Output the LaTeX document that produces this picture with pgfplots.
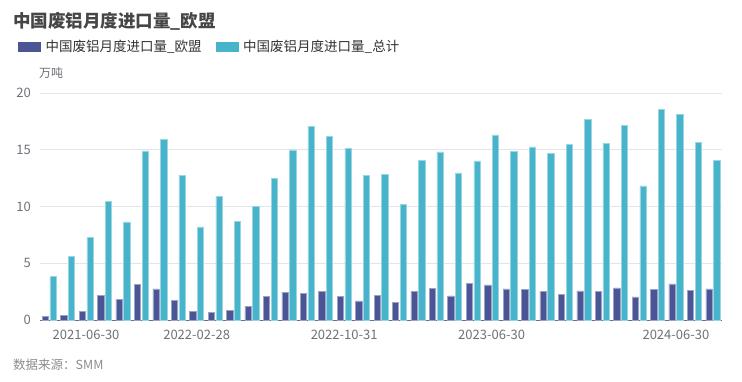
\documentclass[border=0pt]{standalone}
\usepackage{pgfplots}
\usepackage{pgfplotstable}
\pgfplotsset{compat=1.18}
\usepackage{fontspec}
\setmainfont{Noto Sans CJK SC}
\definecolor{eu}{HTML}{4B5596}
\definecolor{tot}{HTML}{48B4CB}
\definecolor{axisgray}{HTML}{6E7079}
\definecolor{gridgray}{HTML}{E3E5EA}
\definecolor{titlec}{HTML}{464646}
\definecolor{legc}{HTML}{333333}
\definecolor{srcc}{HTML}{8C8C8C}
\pgfplotstableread{
idx eu tot
0 0.35 3.82
1 0.41 5.59
2 0.76 7.26
3 2.20 10.44
4 1.82 8.65
5 3.15 14.91
6 2.74 15.91
7 1.74 12.76
8 0.76 8.21
9 0.70 10.91
10 0.85 8.71
11 1.18 10.03
12 2.09 12.50
13 2.44 15.00
14 2.35 17.09
15 2.53 16.21
16 2.09 15.12
17 1.68 12.71
18 2.20 12.82
19 1.56 10.18
20 2.53 14.09
21 2.79 14.82
22 2.12 12.97
23 3.26 14.03
24 3.09 16.32
25 2.74 14.88
26 2.71 15.26
27 2.53 14.68
28 2.29 15.47
29 2.56 17.68
30 2.50 15.53
31 2.82 17.15
32 2.03 11.82
33 2.68 18.56
34 3.18 18.12
35 2.62 15.62
36 2.74 14.09
}\datatable
\begin{document}
\begin{tikzpicture}[x=1pt,y=1pt]
\path[use as bounding box] (0,0) rectangle (742,381);
\node[anchor=west, inner sep=0pt, text=titlec, font=\fontsize{17.5}{20}\selectfont\bfseries] at (13,359.5) {中国废铝月度进口量\_欧盟};
\node[anchor=west, inner sep=0pt, text=axisgray, font=\fontsize{12}{14}\selectfont] at (39,308.5) {万吨};
\node[anchor=west, inner sep=0pt, text=srcc, font=\fontsize{12.5}{14}\selectfont] at (13,16.5) {数据来源：SMM};
\begin{axis}[
  at={(40pt,61pt)}, anchor=south west,
  scale only axis, width=682pt, height=227pt,
  xmin=-0.5, xmax=36.5, ymin=0, ymax=20,
  ytick={0,5,10,15,20},
  xtick={2,8,16,24,34},
  xticklabels={2021-06-30,2022-02-28,2022-10-31,2023-06-30,2024-06-30},
  ymajorgrids, grid style={gridgray, line width=0.8pt},
  axis x line*=bottom, axis y line*=left,
  x axis line style={-, axisgray, line width=0.9pt},
  y axis line style={draw=none},
  major tick length=0pt,
  /pgf/number format/assume math mode=true,
  ticklabel style={font=\fontsize{13}{15}\selectfont, text=axisgray},
  yticklabel style={inner sep=0pt, xshift=-9pt},
  xticklabel style={inner sep=0pt, yshift=-10pt},
  ybar=1.4pt, bar width=6.3pt,
  legend columns=2,
  legend style={at={(-0.0323,1.2026)}, anchor=west, draw=none, fill=none,
    inner sep=0pt, font=\fontsize{13.5}{15}\selectfont, text=legc,
    /tikz/every even column/.append style={column sep=14pt},
    /tikz/every odd column/.append style={column sep=5pt},
    nodes={inner sep=0pt}},
  legend cell align=left,
]
\addplot[fill=eu, draw=eu!55!white, line width=0.5pt,
  legend image code/.code={\fill[eu] (0pt,-4.5pt) rectangle (22pt,4.5pt);}]
  table[x=idx, y=eu]{\datatable};
\addlegendentry{中国废铝月度进口量\_欧盟}
\addplot[fill=tot, draw=tot!55!white, line width=0.5pt,
  legend image code/.code={\fill[tot] (0pt,-4.5pt) rectangle (22pt,4.5pt);}]
  table[x=idx, y=tot]{\datatable};
\addlegendentry{中国废铝月度进口量\_总计}
\end{axis}
\end{tikzpicture}
\end{document}
